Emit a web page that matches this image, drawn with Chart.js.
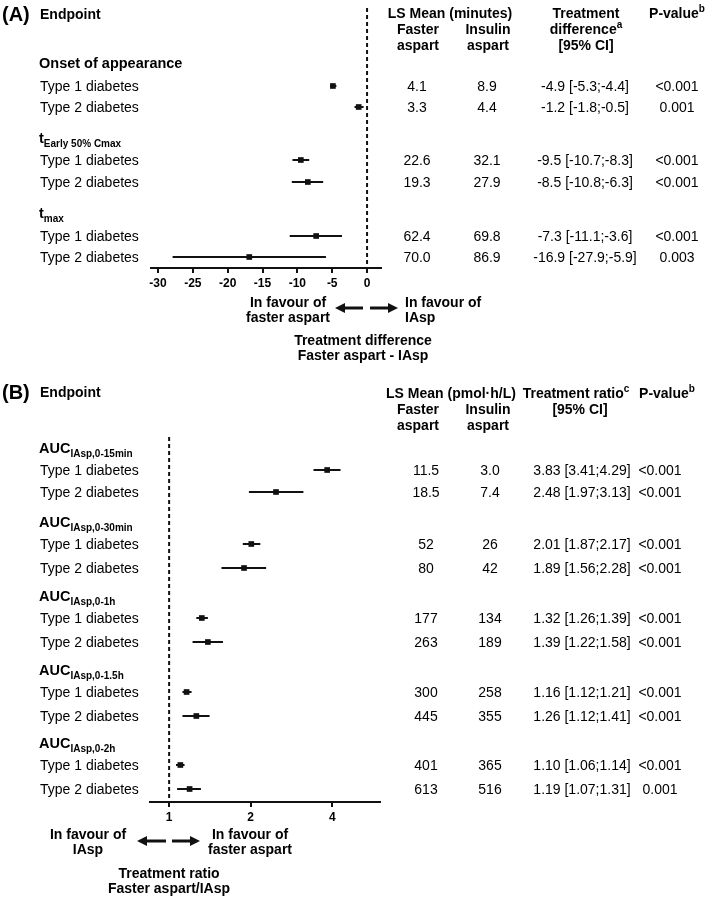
<!DOCTYPE html>
<html>
<head>
<meta charset="utf-8">
<script src="https://cdn.jsdelivr.net/npm/chart.js@4.4.1/dist/chart.umd.min.js"></script>
<style>
  body { margin: 0; background: #fff; }
  #page { position: relative; width: 709px; height: 899px; overflow: hidden;
          font-family: "Liberation Sans", Arial, sans-serif; color: #000; background: #fff; }
  canvas { position: absolute; left: 0; }
  .t { position: absolute; white-space: nowrap; line-height: 1; font-size: 14px; }
  .b { font-weight: bold; }
  .c { transform: translate(-50%, -50%); }
  .l { transform: translate(0, -50%); }
  .sub { font-size: 10px; position: relative; top: 4px; }
  .sup { font-size: 10px; position: relative; top: -6px; }
</style>
</head>
<body>
<div id="page">
  <canvas id="chartA" width="709" height="375" style="top:0"></canvas>
  <canvas id="chartB" width="709" height="524" style="top:375px"></canvas>
</div>
<script>
// Panel A - time endpoints (minutes)
const groupsA = ["Onset of appearance", "t", "t"];
const groupSubsA = ["", "Early 50% Cmax", "max"];
const populations = ["Type 1 diabetes", "Type 2 diabetes"];
const fasterA = ["4.1", "3.3", "22.6", "19.3", "62.4", "70.0"];
const insulinA = ["8.9", "4.4", "32.1", "27.9", "69.8", "86.9"];
const diffA = [-4.9, -1.2, -9.5, -8.5, -7.3, -16.9];
const diffLowA = [-5.3, -1.8, -10.7, -10.8, -11.1, -27.9];
const diffHighA = [-4.4, -0.5, -8.3, -6.3, -3.6, -5.9];
const pValuesA = ["<0.001", "0.001", "<0.001", "<0.001", "<0.001", "0.003"];
const ticksA = [-30, -25, -20, -15, -10, -5, 0];

// Panel B - exposure endpoints (pmol·h/L)
const groupsB = ["AUC", "AUC", "AUC", "AUC", "AUC"];
const groupSubsB = ["IAsp,0-15min", "IAsp,0-30min", "IAsp,0-1h", "IAsp,0-1.5h", "IAsp,0-2h"];
const fasterB = ["11.5", "18.5", "52", "80", "177", "263", "300", "445", "401", "613"];
const insulinB = ["3.0", "7.4", "26", "42", "134", "189", "258", "355", "365", "516"];
const ratioB = [3.83, 2.48, 2.01, 1.89, 1.32, 1.39, 1.16, 1.26, 1.10, 1.19];
const ratioLowB = [3.41, 1.97, 1.87, 1.56, 1.26, 1.22, 1.12, 1.12, 1.06, 1.07];
const ratioHighB = [4.29, 3.13, 2.17, 2.28, 1.39, 1.58, 1.21, 1.41, 1.14, 1.31];
const pValuesB = ["<0.001", "<0.001", "<0.001", "<0.001", "<0.001", "<0.001", "<0.001", "<0.001", "<0.001", "0.001"];
const ticksB = [1, 2, 4];

// layout: vertical slots on the hidden y scale (1 unit = 20px)
const rowPosA = [3.9, 4.95, 7.6, 8.7, 11.4, 12.45];
const groupPosA = [2.75, 6.5, 10.25];
const rowPosB = [1.65, 2.75, 5.35, 6.55, 9.05, 10.25, 12.75, 13.95, 16.4, 17.6];
const groupPosB = [0.55, 4.25, 7.95, 11.65, 15.3];

Chart.defaults.font.family = "'Liberation Sans', Arial, sans-serif";
Chart.defaults.color = "#000";

const ink = "#111";
const page = document.getElementById("page");

function put(html, x, y, cls, size) {
  const d = document.createElement("div");
  d.className = "t " + cls;
  d.innerHTML = html;
  d.style.left = x + "px";
  d.style.top = y + "px";
  if (size) d.style.fontSize = size + "px";
  page.appendChild(d);
}

function drawArrow(ctx, x0, x1, y) {
  const dir = x1 > x0 ? 1 : -1;
  ctx.save();
  ctx.strokeStyle = ink;
  ctx.fillStyle = ink;
  ctx.lineWidth = 3;
  ctx.beginPath();
  ctx.moveTo(x0, y);
  ctx.lineTo(x1 - dir * 8, y);
  ctx.stroke();
  ctx.beginPath();
  ctx.moveTo(x1, y);
  ctx.lineTo(x1 - dir * 10, y - 5);
  ctx.lineTo(x1 - dir * 10, y + 5);
  ctx.closePath();
  ctx.fill();
  ctx.restore();
}

const arrowPlugin = {
  id: "arrows",
  afterDraw(chart, args, opts) {
    (opts.list || []).forEach(a => drawArrow(chart.ctx, a[0], a[1], a[2]));
  }
};

function buildDatasets(est, lo, hi, pos, ref, yMax) {
  const marks = {
    data: est.map((v, i) => ({ x: v, y: pos[i] })),
    pointStyle: "rect", pointRadius: 4, pointBackgroundColor: ink, pointBorderWidth: 0
  };
  const bars = lo.map((l, i) => ({
    data: [{ x: l, y: pos[i] }, { x: hi[i], y: pos[i] }],
    showLine: true, borderColor: ink, borderWidth: 2, pointRadius: 0
  }));
  const refLine = {
    data: [{ x: ref, y: 0 }, { x: ref, y: yMax }],
    showLine: true, borderColor: ink, borderWidth: 2, borderDash: [4, 3], pointRadius: 0
  };
  return [marks, ...bars, refLine];
}

function xAxis(extra, ticks) {
  return Object.assign({
    afterBuildTicks: s => { s.ticks = ticks.map(v => ({ value: v })); },
    afterFit: s => { s.height = 20; },
    grid: { drawOnChartArea: false, drawTicks: true, tickLength: 5, color: ink, lineWidth: 2 },
    border: { display: true, color: ink, width: 2 },
    ticks: { font: { size: 12, weight: "bold" }, color: "#000", padding: 3,
             maxRotation: 0, autoSkip: false, callback: v => String(v) }
  }, extra);
}

const baseOptions = (padding, x, yMax) => ({
  responsive: false,
  animation: false,
  events: [],
  layout: { padding },
  plugins: { legend: { display: false }, tooltip: { enabled: false } },
  scales: {
    x,
    y: { type: "linear", display: false, reverse: true, min: 0, max: yMax }
  }
});

// ---------- chart A ----------
const optsA = baseOptions({ left: 151, right: 328, top: 8, bottom: 87 },
  xAxis({ type: "linear", min: -31, max: 2 }, ticksA), 13);
optsA.plugins.arrows = { list: [[363, 335, 308], [370, 398, 308]] };

const chartA = new Chart(document.getElementById("chartA"), {
  type: "scatter",
  data: { datasets: buildDatasets(diffA, diffLowA, diffHighA, rowPosA, 0, 13) },
  options: optsA,
  plugins: [arrowPlugin]
});

// ---------- chart B ----------
const optsB = baseOptions({ left: 150, right: 329, top: 62, bottom: 77 },
  xAxis({ type: "logarithmic", min: 0.85, max: 6 }, ticksB), 18.25);
optsB.plugins.arrows = { list: [[166, 137, 466], [172, 200, 466]] };

const chartB = new Chart(document.getElementById("chartB"), {
  type: "scatter",
  data: { datasets: buildDatasets(ratioB, ratioLowB, ratioHighB, rowPosB, 1, 18.25) },
  options: optsB,
  plugins: [arrowPlugin]
});

// ---------- text table A ----------
const yA = v => chartA.scales.y.getPixelForValue(v);
put("(A)", 2, 14, "b l", 20);
put("Endpoint", 40, 14, "b l");
put("LS Mean (minutes)", 450, 13, "b c");
put("Faster", 418, 29, "b c");
put("aspart", 418, 45, "b c");
put("Insulin", 488, 29, "b c");
put("aspart", 488, 45, "b c");
put("Treatment", 586, 13, "b c");
put('difference<span class="sup">a</span>', 586, 29, "b c");
put("[95% CI]", 586, 45, "b c");
put('P-value<span class="sup">b</span>', 677, 13, "b c");

groupsA.forEach((g, i) => {
  const sub = groupSubsA[i] ? '<span class="sub">' + groupSubsA[i] + "</span>" : "";
  put(g + sub, 39, yA(groupPosA[i]), "b l", 14.5);
});
rowPosA.forEach((p, i) => {
  const y = yA(p);
  put(populations[i % 2], 40, y, "l");
  put(fasterA[i], 417, y, "c");
  put(insulinA[i], 487, y, "c");
  put(diffA[i].toFixed(1) + " [" + diffLowA[i].toFixed(1) + ";" + diffHighA[i].toFixed(1) + "]", 585, y, "c");
  put(pValuesA[i], 677, y, "c");
});
put("In favour of", 288, 302, "b c");
put("faster aspart", 288, 317, "b c");
put("In favour of", 405, 302, "b l");
put("IAsp", 405, 317, "b l");
put("Treatment difference", 363, 340, "b c");
put("Faster aspart - IAsp", 363, 355, "b c");

// ---------- text table B ----------
const topB = 375;
const yB = v => topB + chartB.scales.y.getPixelForValue(v);
put("(B)", 2, 392, "b l", 20);
put("Endpoint", 40, 392, "b l");
put("LS Mean (pmol·h/L)", 451, 393, "b c");
put("Faster", 418, 409, "b c");
put("aspart", 418, 425, "b c");
put("Insulin", 488, 409, "b c");
put("aspart", 488, 425, "b c");
put('Treatment ratio<span class="sup">c</span>', 576, 393, "b c");
put("[95% CI]", 580, 409, "b c");
put('P-value<span class="sup">b</span>', 667, 393, "b c");

groupsB.forEach((g, i) => {
  put(g + '<span class="sub">' + groupSubsB[i] + "</span>", 39, yB(groupPosB[i]), "b l", 14.5);
});
rowPosB.forEach((p, i) => {
  const y = yB(p);
  put(populations[i % 2], 40, y, "l");
  put(fasterB[i], 426, y, "c");
  put(insulinB[i], 490, y, "c");
  put(ratioB[i].toFixed(2) + " [" + ratioLowB[i].toFixed(2) + ";" + ratioHighB[i].toFixed(2) + "]", 582, y, "c");
  put(pValuesB[i], 660, y, "c");
});
put("In favour of", 88, 834, "b c");
put("IAsp", 88, 849, "b c");
put("In favour of", 250, 834, "b c");
put("faster aspart", 250, 849, "b c");
put("Treatment ratio", 169, 873, "b c");
put("Faster aspart/IAsp", 169, 888, "b c");
</script>
</body>
</html>
